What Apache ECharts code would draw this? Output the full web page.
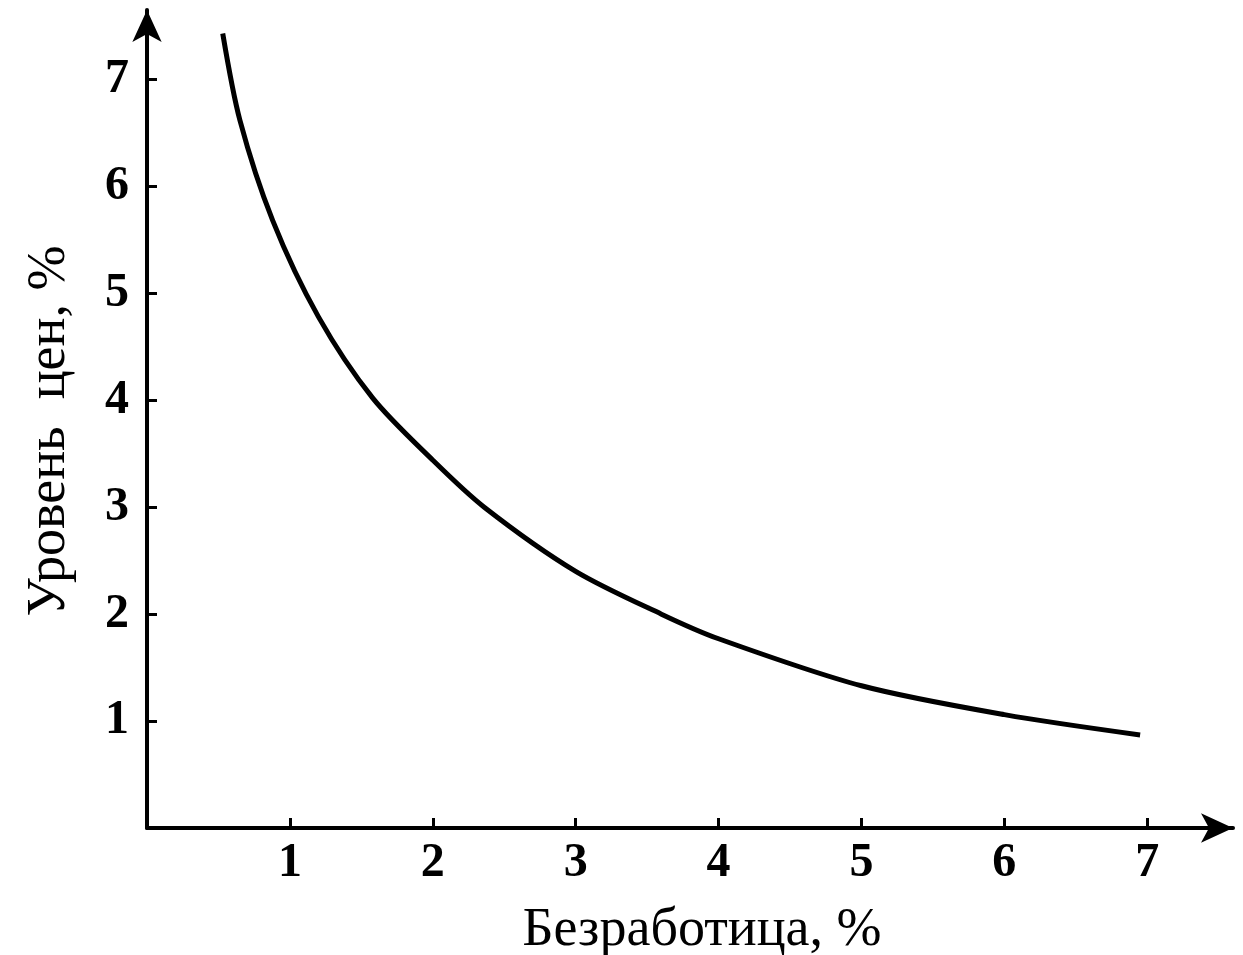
<!DOCTYPE html>
<html>
<head>
<meta charset="utf-8">
<script src="https://cdn.jsdelivr.net/npm/echarts@6/dist/echarts.min.js"></script>
<style>
    html, body {margin:0;padding:0;background:#fff;}
    #chart {width:1243px;height:955px;}
</style>
</head>
<body>
<div id="chart"></div>
<script>
    // unemployment (%) vs price level (%)
    var unemployment = [0.53, 0.65, 0.88, 1.2, 1.58, 2.0, 2.36, 3.0, 3.6, 4.0, 5.0, 6.0, 6.95];
    var priceLevel   = [7.43, 6.62, 5.68, 4.78, 4.02, 3.44, 3.0, 2.4, 2.0, 1.77, 1.33, 1.06, 0.87];
    var xTicks = [1, 2, 3, 4, 5, 6, 7];
    var yTicks = [1, 2, 3, 4, 5, 6, 7];

    var points = unemployment.map(function (x, i) { return [x, priceLevel[i]]; });

    var chart = echarts.init(document.getElementById('chart'));
    var labelStyle = {
        color: '#000',
        fontFamily: 'Liberation Serif',
        fontWeight: 'bold',
        fontSize: 48
    };
    var option = {
        backgroundColor: '#fff',
        animation: false,
        grid: {left: 147, right: 10, top: 10, bottom: 127, outerBoundsMode: 'none'},
        xAxis: {
            type: 'value',
            min: 0,
            max: 7.6,
            interval: 1,
            name: 'Безработица, %',
            nameLocation: 'middle',
            nameGap: 76,
            nameTextStyle: {color: '#000', fontFamily: 'Liberation Serif', fontSize: 54, padding: [0, 0, 0, 24]},
            splitLine: {show: false},
            axisLine: {lineStyle: {color: '#000', width: 4}, symbol: ['none', 'arrow'], symbolSize: [22, 32]},
            axisTick: {inside: true, length: 10, lineStyle: {color: '#000', width: 3}, customValues: xTicks},
            axisLabel: Object.assign({margin: 12, customValues: xTicks}, labelStyle)
        },
        yAxis: {
            type: 'value',
            min: 0,
            max: 7.65,
            interval: 1,
            name: 'Уровень  цен, %',
            nameLocation: 'middle',
            nameGap: 70,
            nameTextStyle: {color: '#000', fontFamily: 'Liberation Serif', fontSize: 54, padding: [0, 24, 0, 0]},
            splitLine: {show: false},
            axisLine: {lineStyle: {color: '#000', width: 4}, symbol: ['none', 'arrow'], symbolSize: [22, 32]},
            axisTick: {inside: true, length: 10, lineStyle: {color: '#000', width: 3}, customValues: yTicks},
            axisLabel: Object.assign({margin: 18, customValues: yTicks}, labelStyle)
        },
        series: [{
            type: 'line',
            data: points,
            smooth: 0.3,
            showSymbol: false,
            lineStyle: {color: '#000', width: 5}
        }]
    };
    chart.setOption(option);
</script>
</body>
</html>
